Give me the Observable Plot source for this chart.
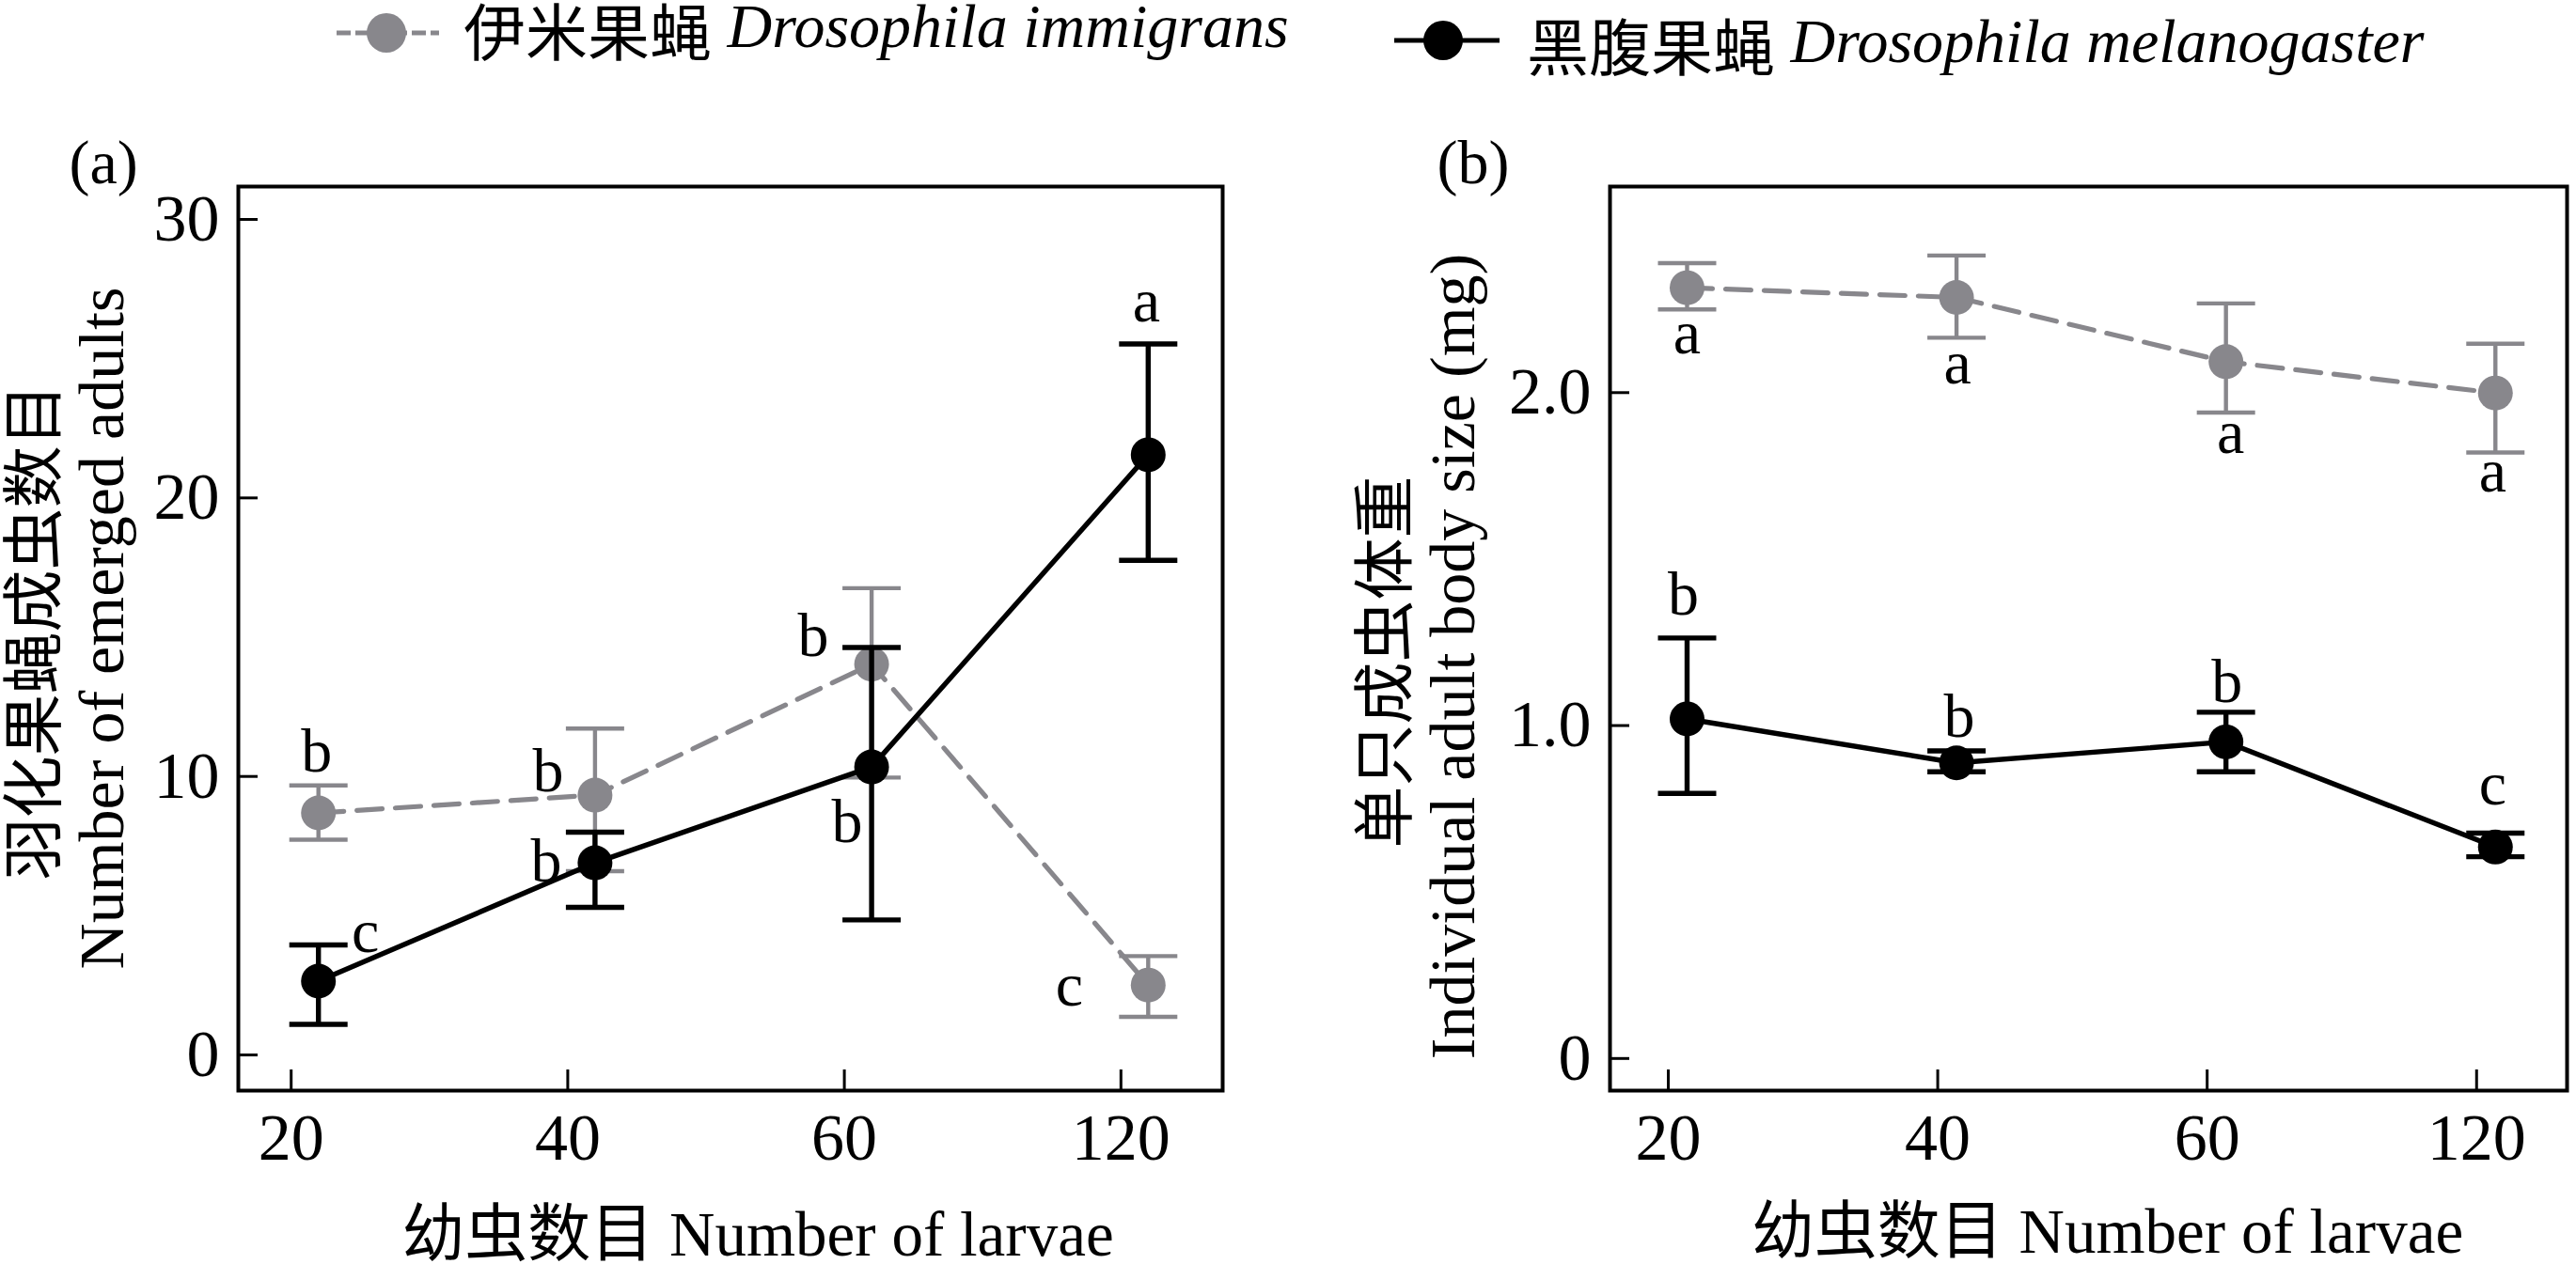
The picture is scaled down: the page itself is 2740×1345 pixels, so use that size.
<!DOCTYPE html>
<html>
<head>
<meta charset="utf-8">
<script src="https://cdn.jsdelivr.net/npm/d3@7"></script>
<script src="https://cdn.jsdelivr.net/npm/@observablehq/plot@0.6"></script>
<style>
html, body { margin: 0; padding: 0; background: #fff; overflow: hidden; }
#root { width: 2740px; height: 1345px; position: relative; background: #fff; }
#legend { position: absolute; left: 0; top: 0; }
#pa { position: absolute; left: 0; top: 100px; width: 1360px; }
#pb { position: absolute; left: 1360px; top: 100px; width: 1380px; }
svg { display: block; }
</style>
</head>
<body>
<div id="root">
  <div id="legend"></div>
  <div id="pa"></div>
  <div id="pb"></div>
</div>
<script>
// ---------------- data ----------------
const xLabels = ["20", "40", "60", "120"];
const seriesCn = ["伊米果蝇", "黑腹果蝇"];
const seriesLatin = ["Drosophila immigrans", "Drosophila melanogaster"];

// panel (a): number of emerged adults
const yTicksA = [0, 10, 20, 30];
const yTickLabelsA = ["0", "10", "20", "30"];
const immA_mean = [8.69, 9.33, 14.03, 2.51];
const immA_lo   = [7.73, 6.60, 9.96, 1.37];
const immA_hi   = [9.68, 11.72, 16.76, 3.55];
const immA_letters = ["b", "b", "b", "c"];
const melA_mean = [2.65, 6.90, 10.34, 21.55];
const melA_lo   = [1.10, 5.30, 4.85, 17.76];
const melA_hi   = [3.95, 8.00, 14.63, 25.53];
const melA_letters = ["c", "b", "b", "a"];

// panel (b): individual adult body size (mg)
const yTicksB = [0, 1, 2];
const yTickLabelsB = ["0", "1.0", "2.0"];
const immB_mean = [2.315, 2.286, 2.093, 1.999];
const immB_lo   = [2.250, 2.165, 1.940, 1.820];
const immB_hi   = [2.389, 2.412, 2.268, 2.147];
const immB_letters = ["a", "a", "a", "a"];
const melB_mean = [1.020, 0.888, 0.951, 0.635];
const melB_lo   = [0.796, 0.861, 0.861, 0.606];
const melB_hi   = [1.263, 0.924, 1.040, 0.677];
const melB_letters = ["b", "b", "b", "c"];

// ---------------- layout / style ----------------
const GRAY = "#88878c";
const BLACK = "#000000";
const FONT = '"Liberation Serif", "Times New Roman", "Noto Sans CJK SC", serif';

// letter label offsets (px) relative to each mean point
const labelOffA = {
  imm: [[-2, -44], [-50, -4], [-62, -9], [-84, 22]],
  mel: [[50, -31], [-52, 20], [-26, 80], [-2, -142]]
};
const labelOffB = {
  imm: [[0, 70], [1, 92], [5, 97], [-3, 105]],
  mel: [[-4, -111], [3, -28], [1, -42], [-3, -45]]
};

const capSymbol = {
  draw(ctx, size) {
    const h = Math.sqrt(size / Math.PI);
    ctx.moveTo(-h, 0);
    ctx.lineTo(h, 0);
  }
};

function rows(mean, lo, hi, letters) {
  return xLabels.map((_, i) => ({i, mean: mean[i], lo: lo[i], hi: hi[i], letter: letters[i]}));
}

function seriesMarks(data, color, dashed, offsets) {
  const lw = dashed ? 5.2 : 5.4;
  const bw = dashed ? 4.4 : 5.4;
  const marks = [
    Plot.line(data, {x: "i", y: "mean", stroke: color, strokeWidth: lw,
      strokeDasharray: dashed ? "27,14" : null}),
    Plot.ruleX(data, {x: "i", y1: "lo", y2: "hi", stroke: color, strokeWidth: bw}),
    Plot.dot(data, {x: "i", y: "lo", symbol: capSymbol, r: 31, fill: "none", stroke: color, strokeWidth: bw}),
    Plot.dot(data, {x: "i", y: "hi", symbol: capSymbol, r: 31, fill: "none", stroke: color, strokeWidth: bw}),
    Plot.dot(data, {x: "i", y: "mean", r: 18.5, fill: color, stroke: "none"})
  ];
  data.forEach((d, k) => {
    marks.push(Plot.text([d], {x: "i", y: "mean", text: "letter", dx: offsets[k][0], dy: offsets[k][1],
      lineAnchor: "bottom", fontSize: 66, fill: BLACK}));
  });
  return marks;
}

function panel(cfg) {
  return Plot.plot({
    width: cfg.width,
    height: 1245,
    marginTop: 98,
    marginBottom: 185,
    marginLeft: cfg.marginLeft,
    marginRight: cfg.marginRight,
    style: {fontFamily: FONT, fontSize: "66px", color: "#000", background: "#fff", overflow: "visible"},
    x: {type: "linear", domain: cfg.xDomain},
    y: {type: "linear", domain: cfg.yDomain},
    marks: [
      Plot.frame({stroke: BLACK, strokeWidth: 4}),
      Plot.axisY({ticks: cfg.yTicks, tickFormat: (d) => cfg.yTickLabels[cfg.yTicks.indexOf(d)],
        tickSize: -21, tickPadding: 41, strokeWidth: 3, label: null, fontSize: 70}),
      Plot.axisX({ticks: [0, 1, 2, 3], tickFormat: (d) => xLabels[d],
        tickSize: -22, tickPadding: 46, strokeWidth: 3, label: null, fontSize: 70, dx: cfg.tickDx}),
      ...seriesMarks(cfg.imm, GRAY, true, cfg.off.imm),
      ...seriesMarks(cfg.mel, BLACK, false, cfg.off.mel),
      Plot.text([cfg.yTitle1], {text: (d) => d, frameAnchor: "left", textAnchor: "middle", rotate: -90,
        lineAnchor: "bottom", dx: cfg.yTitleDx[0], dy: cfg.yTitleDy[0], fontSize: 66}),
      Plot.text([cfg.yTitle2], {text: (d) => d, frameAnchor: "left", textAnchor: "middle", rotate: -90,
        lineAnchor: "bottom", dx: cfg.yTitleDx[1], dy: cfg.yTitleDy[1], fontSize: 68}),
      Plot.text([cfg.xTitle], {text: (d) => d, frameAnchor: "bottom", textAnchor: "middle", lineAnchor: "bottom",
        dx: cfg.xTitleDx, dy: cfg.xTitleDy, fontSize: 67}),
      Plot.text([cfg.tag], {text: (d) => d, frameAnchor: "top-left", textAnchor: "start", lineAnchor: "bottom",
        dx: cfg.tagDx, dy: -4, fontSize: 66})
    ]
  });
}

const xTitle = "幼虫数目 Number of larvae";

const plotA = panel({
  width: 1360, marginLeft: 253, marginRight: 60,
  xDomain: [-0.2896, 3.2692], yDomain: [-1.28, 31.18],
  yTicks: yTicksA, yTickLabels: yTickLabelsA, tickDx: -29,
  imm: rows(immA_mean, immA_lo, immA_hi, immA_letters),
  mel: rows(melA_mean, melA_lo, melA_hi, melA_letters),
  off: labelOffA,
  yTitle1: "羽化果蝇成虫数目", yTitle2: "Number of emerged adults",
  yTitleDx: [58 - 253, 130 - 253], yTitleDy: [-7, -11],
  xTitle, xTitleDx: 29, xTitleDy: 175,
  tag: "(a)", tagDx: 73 - 253
});

const plotB = panel({
  width: 1380, marginLeft: 352, marginRight: 10,
  xDomain: [-0.2861, 3.266], yDomain: [-0.0965, 2.619],
  yTicks: yTicksB, yTickLabels: yTickLabelsB, tickDx: -20,
  imm: rows(immB_mean, immB_lo, immB_hi, immB_letters),
  mel: rows(melB_mean, melB_lo, melB_hi, melB_letters),
  off: labelOffB,
  yTitle1: "单只成虫体重", yTitle2: "Individual adult body size (mg)",
  yTitleDx: [135 - 352, 207 - 352], yTitleDy: [25, 19],
  xTitle, xTitleDx: 20, xTitleDy: 172,
  tag: "(b)", tagDx: 168 - 352
});

document.getElementById("pa").appendChild(plotA);
document.getElementById("pb").appendChild(plotB);

// ---------------- legend ----------------
const legendItems = [
  {x1: 358, x2: 467, cx: 411, cy: 35, color: GRAY, dash: "15,5", tx: 493, ty: 50, cn: seriesCn[0], la: seriesLatin[0]},
  {x1: 1483, x2: 1595, cx: 1535, cy: 43, color: BLACK, dash: null, tx: 1624, ty: 66, cn: seriesCn[1], la: seriesLatin[1]}
];
const NS = "http://www.w3.org/2000/svg";
const lg = document.createElementNS(NS, "svg");
lg.setAttribute("width", 2740);
lg.setAttribute("height", 100);
lg.setAttribute("font-family", FONT);
for (const it of legendItems) {
  const ln = document.createElementNS(NS, "line");
  ln.setAttribute("x1", it.x1); ln.setAttribute("x2", it.x2);
  ln.setAttribute("y1", it.cy); ln.setAttribute("y2", it.cy);
  ln.setAttribute("stroke", it.color); ln.setAttribute("stroke-width", 5);
  if (it.dash) ln.setAttribute("stroke-dasharray", it.dash);
  lg.appendChild(ln);
  const c = document.createElementNS(NS, "circle");
  c.setAttribute("cx", it.cx); c.setAttribute("cy", it.cy); c.setAttribute("r", 21);
  c.setAttribute("fill", it.color);
  lg.appendChild(c);
  const t = document.createElementNS(NS, "text");
  t.setAttribute("x", it.tx); t.setAttribute("y", it.ty);
  t.setAttribute("font-size", 66);
  const cn = document.createElementNS(NS, "tspan");
  cn.setAttribute("dy", 9);
  cn.textContent = it.cn + " ";
  t.appendChild(cn);
  const ts = document.createElementNS(NS, "tspan");
  ts.setAttribute("dy", -9);
  ts.setAttribute("font-style", "italic");
  ts.textContent = it.la;
  t.appendChild(ts);
  lg.appendChild(t);
}
document.getElementById("legend").appendChild(lg);
</script>
</body>
</html>
